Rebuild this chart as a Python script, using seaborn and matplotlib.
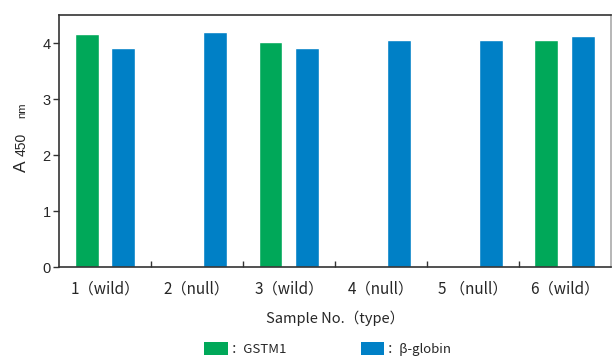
import numpy as np
import pandas as pd
import seaborn as sns
import matplotlib.pyplot as plt
from matplotlib.patches import Patch

samples = ["1（wild）", "2（null）", "3（wild）", "4（null）", "5 （null）", "6（wild）"]
gstm1 = [4.17, np.nan, 4.02, np.nan, np.nan, 4.06]
beta_globin = [3.92, 4.19, 3.92, 4.06, 4.06, 4.12]
genes = ["GSTM1", "β-globin"]
colors = ["#00A859", "#0080C6"]

df = pd.DataFrame({
    "sample": samples * 2,
    "gene": [genes[0]] * 6 + [genes[1]] * 6,
    "value": gstm1 + beta_globin,
})

sns.set_style("white")
plt.rcParams['font.family'] = ['Noto Sans CJK SC', 'DejaVu Sans']

fig = plt.figure(figsize=(6.12, 3.58), dpi=100)
ax = fig.add_axes([0.0964, 0.254, 0.9016, 0.704])

sns.barplot(data=df, x="sample", y="value", hue="gene", order=samples,
            hue_order=genes, palette=colors, width=0.8, gap=0.35,
            saturation=1, legend=False, ax=ax)

ax.set_xlim(-0.5, 5.5)
ax.set_ylim(0, 4.5)
ax.set_yticks([0, 1, 2, 3, 4])
ax.set_yticklabels(["0", "1", "2", "3", "4"], family="Liberation Sans", fontsize=10.5)
ax.tick_params(axis="y", direction="out", length=4, width=1, color="#333333", pad=2, left=True)
ax.tick_params(axis="x", which="major", length=0, pad=10, labelsize=11)
ax.set_xticks(np.arange(0.5, 5, 1), minor=True)
ax.tick_params(axis="x", which="minor", direction="in", length=4, width=1, color="#333333", bottom=True)

for s in ax.spines.values():
    s.set_color("#333333")
    s.set_linewidth(1.2)
ax.spines["right"].set_color("#aaaaaa")

ax.set_xlabel("Sample No.（type）", fontsize=10.5, labelpad=9)
ax.set_ylabel("")

# y label: A with small 450 and nm
fig.text(21 / 612, 1 - 166 / 358, "A", rotation=90, ha="center", va="center",
         family="Liberation Sans", fontsize=12.5)
fig.text(22 / 612, 1 - 144 / 358, "450", rotation=90, ha="center", va="center",
         family="Liberation Sans", fontsize=10)
fig.text(22 / 612, 1 - 110 / 358, "nm", rotation=90, ha="center", va="center",
         family="Liberation Sans", fontsize=8)

handles = [Patch(facecolor=c, edgecolor="none") for c in colors]
fig.legend(handles, ["：GSTM1", "：β-globin"], ncol=2, loc="center",
           bbox_to_anchor=(0.536, 1 - 349 / 358), frameon=False, fontsize=9.5,
           handlelength=1.8, handleheight=1.15, handletextpad=0.2, columnspacing=5.6)

fig.savefig("out.png", dpi=100)
